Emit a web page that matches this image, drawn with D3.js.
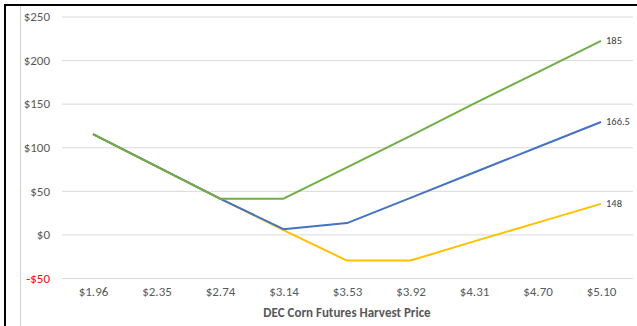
<!DOCTYPE html>
<html>
<head>
<meta charset="utf-8">
<script src="https://cdn.jsdelivr.net/npm/d3@7"></script>
<style>
  html, body { margin: 0; padding: 0; background: #fff; }
  svg { display: block; }
</style>
</head>
<body>
<svg id="chart" width="637" height="326"></svg>
<script>
// Harvest prices (category axis)
const prices = ["$1.96", "$2.35", "$2.74", "$3.14", "$3.53", "$3.92", "$4.31", "$4.70", "$5.10"];

// Net outcome per strategy at each harvest price
const yellowValues = [115, 78, 41, 5, -30, -30, -8, 13.5, 35];
const blueValues   = [115, 78, 41, 6, 13, 42, 71, 100, 129];
const greenValues  = [115, 78, 41, 41, 77, 113, 150, 186, 222];

// End labels for each series
const endLabels = ["148", "166.5", "185"];

const yTicks = [-50, 0, 50, 100, 150, 200, 250];

const series = [
  { values: yellowValues, color: "#FFC000", label: endLabels[0] },
  { values: blueValues,   color: "#4472C4", label: endLabels[1] },
  { values: greenValues,  color: "#70AD47", label: endLabels[2] }
];

const svg = d3.select("#chart");
const font = "Calibri, Carlito, Lato, 'Open Sans', sans-serif";

// Frame: thick dark edge on the left and top, thin grey rule inside
svg.append("line").attr("x1", 5).attr("x2", 5).attr("y1", 4).attr("y2", 326)
  .attr("stroke", "#000").attr("stroke-width", 2);
svg.append("line").attr("x1", 4).attr("x2", 637).attr("y1", 5).attr("y2", 5)
  .attr("stroke", "#000").attr("stroke-width", 2);
svg.append("line").attr("x1", 20.5).attr("x2", 20.5).attr("y1", 6).attr("y2", 326)
  .attr("stroke", "#d0d0d0").attr("stroke-width", 1);

const x = d3.scalePoint().domain(prices).range([93, 601]);
const y = d3.scaleLinear().domain([-50, 250]).range([278, 16.5]);

// Horizontal gridlines
const yAxis = d3.axisLeft(y).tickValues(yTicks)
  .tickSize(-(633 - 62))
  .tickFormat(d => (d < 0 ? "-$" + Math.abs(d) : "$" + d));
const gy = svg.append("g").attr("transform", "translate(62,0)").call(yAxis);
gy.select(".domain").remove();
gy.selectAll(".tick line").attr("stroke", "#d9d9d9").attr("stroke-width", 1);
gy.selectAll(".tick text")
  .attr("x", -12)
  .attr("font-family", font).attr("font-size", 13)
  .attr("fill", d => d < 0 ? "#ff0000" : "#595959");

// Category axis labels
const xAxis = d3.axisBottom(x).tickSize(0).tickPadding(0);
const gx = svg.append("g").attr("transform", "translate(0,287)").call(xAxis);
gx.select(".domain").remove();
gx.selectAll(".tick text")
  .attr("font-family", font).attr("font-size", 13).attr("fill", "#595959");

// Axis title
svg.append("text")
  .attr("x", 347).attr("y", 317)
  .attr("text-anchor", "middle")
  .attr("font-family", font).attr("font-size", 13).attr("font-weight", "bold")
  .attr("fill", "#595959")
  .text("DEC Corn Futures Harvest Price");

// Series lines
const line = d3.line().x((d, i) => x(prices[i])).y(d => y(d));
series.forEach(s => {
  svg.append("path")
    .datum(s.values)
    .attr("fill", "none")
    .attr("stroke", s.color)
    .attr("stroke-width", 2)
    .attr("stroke-linejoin", "round")
    .attr("d", line);
  const last = s.values[s.values.length - 1];
  svg.append("text")
    .attr("x", x(prices[prices.length - 1]) + 5)
    .attr("y", y(last) + 3.5)
    .attr("font-family", font).attr("font-size", 10.5)
    .attr("fill", "#404040")
    .text(s.label);
});
</script>
</body>
</html>
